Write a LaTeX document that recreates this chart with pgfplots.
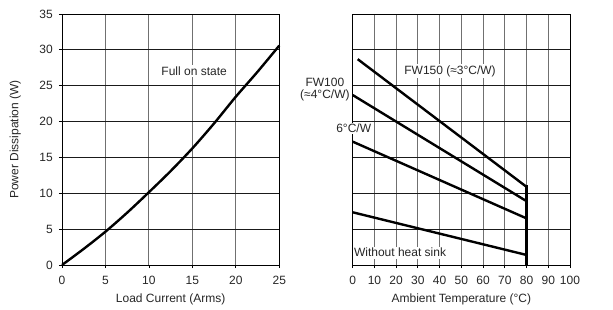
\documentclass[border=0pt]{standalone}
\usepackage{pgfplots}
\pgfplotsset{compat=1.18}
\usepackage{fontspec}
\setmainfont{Liberation Sans}
\definecolor{txt}{HTML}{262626}
\definecolor{vgrid}{HTML}{707070}
\definecolor{hgrid}{HTML}{1A1A1A}
\begin{document}
\fontsize{12}{14}\selectfont
\begin{tikzpicture}[x=1pt,y=1pt]
\useasboundingbox (0,0) rectangle (613,309);
\pgfplotsset{
  every axis/.append style={
    scale only axis, width=217.3pt, height=251pt,
    ymin=0, ymax=35, ytick={0,5,...,35},
    grid=major,
    x grid style={vgrid, line width=0.9pt},
    y grid style={hgrid, line width=0.9pt},
    axis line style={black, line width=0.9pt},
    tick style={black, line width=0.8pt},
    xtick pos=bottom, ytick pos=left,
    tick align=outside, major tick length=3pt,
    tick label style={font=\fontsize{12}{14}\selectfont, text=txt},
    label style={font=\fontsize{12}{14}\selectfont, text=txt},
    /pgf/number format/assume math mode=true,
    clip=false,
    anchor=south west,
  },
}
\begin{axis}[
  at={(62pt,44pt)},
  xmin=0, xmax=25, xtick={0,5,...,25},
  xlabel={Load Current (Arms)},
  ylabel={Power Dissipation (W)},
  xlabel style={at={(axis description cs:0.5,0)}, anchor=north, yshift=-25pt},
  ylabel style={at={(axis description cs:0,0.5)}, anchor=south, yshift=37pt},
  yticklabel style={xshift=-2pt},
  xticklabel style={yshift=-4pt},
]
\addplot[line width=2.4pt, black, smooth, tension=0.5] coordinates {
(0,0) (2.5,2.25) (5,4.65) (7.5,7.3) (10,10.15) (12.5,13.1) (15,16.27) (17.5,19.75) (20,23.47) (22.5,26.95) (25,30.6)
};
\node[fill=white, inner sep=1.5pt, text=txt] at (axis cs:15.2,27.05) {Full on state};
\end{axis}
\begin{axis}[
  at={(352.7pt,44pt)},
  xmin=0, xmax=100, xtick={0,10,...,100},
  yticklabels={},
  ytick style={draw=none},
  xlabel={Ambient Temperature (°C)},
  xlabel style={at={(axis description cs:0.5,0)}, anchor=north, yshift=-25pt},
  xticklabel style={yshift=-4pt},
]
\addplot[line width=2.4pt, black] coordinates {(2.3,28.7) (80,10.9)};
\addplot[line width=2.4pt, black] coordinates {(0,23.7) (80,8.9)};
\addplot[line width=2.4pt, black] coordinates {(0,17.2) (80,6.5)};
\addplot[line width=2.4pt, black] coordinates {(0,7.35) (80,1.4)};
\addplot[line width=3.2pt, black] coordinates {(80,0) (80,11.1)};
\node[fill=white, inner sep=1.5pt, text=txt] at (axis cs:44.8,27.05) {FW150 (≈3°C/W)};
\node[align=center, inner sep=0pt, text=txt, font=\fontsize{12}{12.4}\selectfont] at (axis cs:-12.8,24.47) {FW100\\(≈4°C/W)};
\node[fill=white, inner sep=1pt, text=txt] at (axis cs:0.45,19.03) {6°C/W};
\node[fill=white, inner sep=1.5pt, text=txt] at (axis cs:21.8,1.72) {Without heat sink};
\end{axis}
\end{tikzpicture}
\end{document}
